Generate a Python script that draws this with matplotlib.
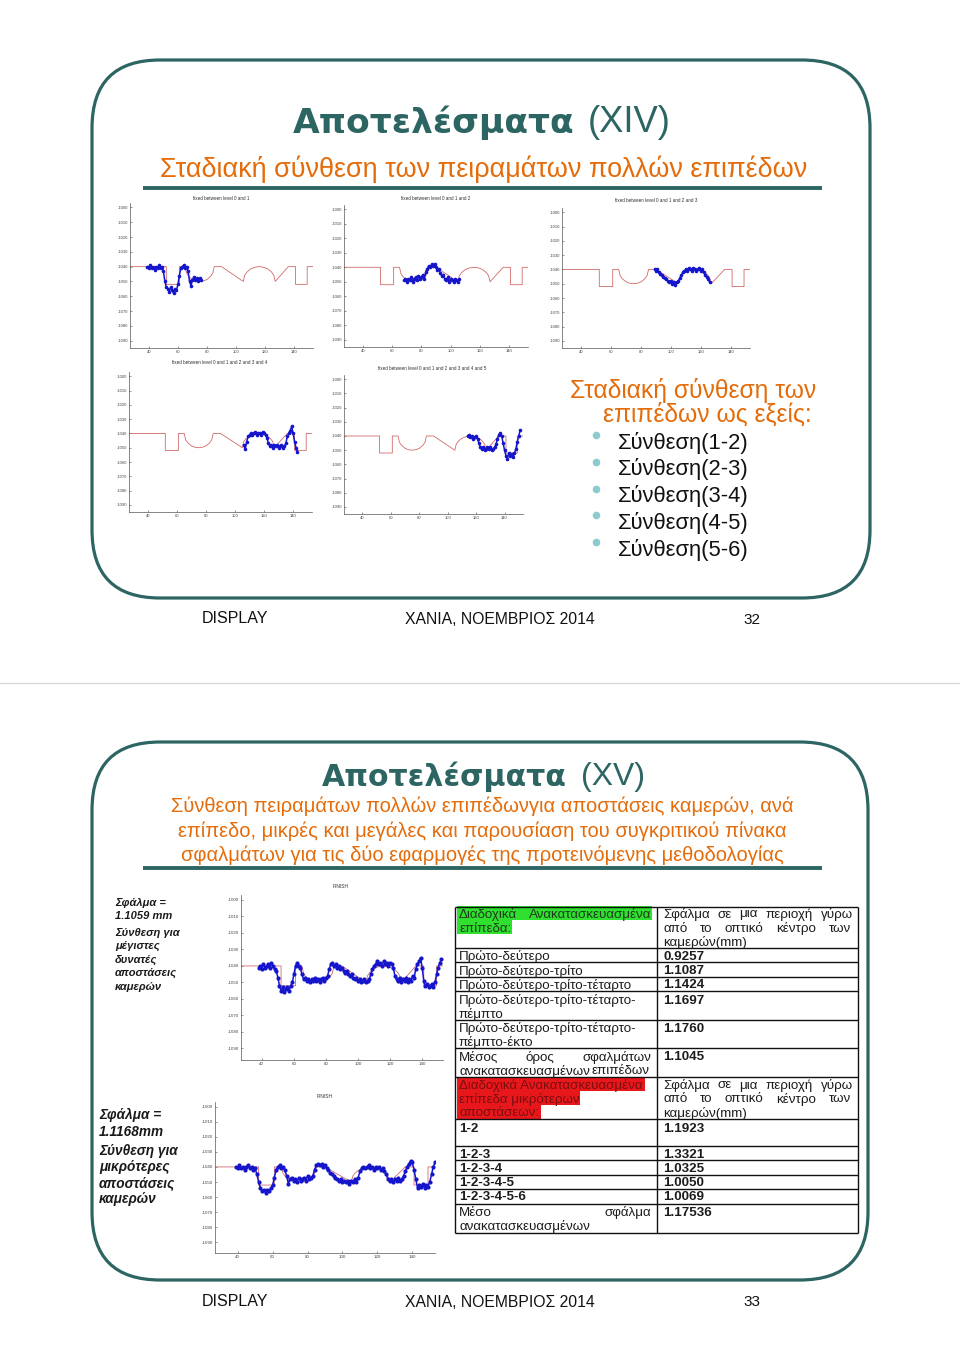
import matplotlib
matplotlib.use("Agg")
import matplotlib.pyplot as plt
import numpy as np
from matplotlib.patches import FancyBboxPatch, Rectangle

plt.rcParams["font.family"] = ["Liberation Sans", "DejaVu Sans"]
plt.rcParams["axes.unicode_minus"] = False

TEAL = "#2d6563"
ORANGE = "#e46c0a"
RED_LINE = "#d26a6a"
BLUE = "#1515cc"
W, H = 960, 1367

# ground-truth surface profile (red line)
TRUTH_X = [27, 52, 52, 61, 61, 65, 66, 67.5, 70, 72.5, 75, 77.5, 80, 82.5, 84, 85,
           90, 105, 106, 107.5, 110, 113, 116, 119, 122, 124.5, 126, 127,
           136, 141, 141, 149, 149, 153]
TRUTH_Y = [-1040, -1040, -1052, -1052, -1040, -1040, -1044.4, -1046.6, -1048.7, -1049.7, -1050,
           -1049.7, -1048.7, -1046.6, -1044.4, -1040, -1040, -1050, -1045.8, -1043.7, -1041.6,
           -1040.4, -1040, -1040.4, -1041.6, -1043.7, -1045.8, -1050, -1040, -1040, -1052,
           -1052, -1040, -1040]

# reconstructed points (blue), first x and one value per unit step
STAGE1_X0 = 39
STAGE1_Y = [-1040, -1041, -1039, -1041, -1040, -1042, -1040, -1041, -1039, -1041, -1040, -1043,
            -1050, -1054, -1055, -1057, -1054, -1056, -1058, -1055, -1056, -1052, -1046, -1041,
            -1040, -1039, -1041, -1040, -1043, -1050, -1053, -1049, -1047, -1049, -1048, -1050,
            -1048, -1049]
STAGE2_X0 = 68
STAGE2_Y = [-1049, -1048, -1050, -1048, -1049, -1047, -1050, -1048, -1047, -1049, -1046, -1048,
            -1047, -1045, -1048, -1043, -1041, -1039, -1040, -1038, -1039, -1038, -1040, -1042,
            -1041, -1044, -1046, -1045, -1048, -1049, -1047, -1050, -1048, -1049, -1050, -1048,
            -1049, -1050, -1048]
STAGE3_X0 = 89
STAGE3_Y = [-1040, -1041, -1040, -1042, -1043, -1044, -1045, -1046, -1047, -1048, -1049, -1048,
            -1050, -1049, -1051, -1049, -1048, -1046, -1044, -1042, -1041, -1040, -1041, -1039,
            -1040, -1041, -1039, -1040, -1041, -1040, -1039, -1041, -1040, -1042, -1044, -1045,
            -1047, -1049]
STAGE4_X0 = 106
STAGE4_Y = [-1048, -1051, -1046, -1042, -1041, -1040, -1041, -1040, -1039, -1041, -1040, -1040,
            -1041, -1039, -1040, -1041, -1043, -1047, -1049, -1048, -1050, -1048, -1049, -1048,
            -1050, -1049, -1048, -1050, -1049, -1047, -1042, -1040, -1038, -1035, -1040, -1046,
            -1050, -1053]
STAGE5_X0 = 114
STAGE5_Y = [-1040, -1039, -1041, -1040, -1042, -1041, -1040, -1042, -1045, -1048, -1049, -1048,
            -1050, -1049, -1048, -1049, -1048, -1050, -1049, -1048, -1046, -1042, -1039, -1038,
            -1040, -1045, -1050, -1054, -1056, -1052, -1054, -1053, -1055, -1052, -1049, -1044,
            -1040, -1036]
FINAL_MAX_X0 = 38
FINAL_MAX_Y = [-1041, -1040, -1042, -1039, -1041, -1040, -1039, -1041, -1038, -1040, -1042, -1043,
               -1047, -1052, -1055, -1053, -1056, -1054, -1053, -1055, -1052, -1050, -1045, -1040,
               -1038, -1040, -1041, -1045, -1048, -1047, -1049, -1048, -1050, -1048, -1049, -1047,
               -1049, -1048, -1050, -1048, -1047, -1049, -1047, -1046, -1042, -1039, -1038, -1040,
               -1039, -1041, -1040, -1042, -1041, -1043, -1044, -1043, -1045, -1046, -1045, -1047,
               -1048, -1047, -1049, -1048, -1050, -1049, -1048, -1050, -1049, -1048, -1045, -1042,
               -1040, -1039, -1037, -1039, -1038, -1040, -1037, -1039, -1038, -1040, -1038, -1039,
               -1041, -1046, -1048, -1049, -1047, -1050, -1048, -1049, -1047, -1050, -1048, -1049,
               -1046, -1047, -1042, -1039, -1037, -1035, -1041, -1049, -1052, -1051, -1053, -1052,
               -1051, -1053, -1050, -1045, -1041, -1038, -1036]
FINAL_MIN_X0 = 39
FINAL_MIN_Y = [-1040, -1041, -1039, -1041, -1040, -1042, -1040, -1039, -1041, -1040, -1042, -1041,
               -1045, -1050, -1054, -1056, -1055, -1057, -1055, -1056, -1054, -1052, -1047, -1042,
               -1040, -1039, -1041, -1040, -1042, -1046, -1051, -1048, -1047, -1049, -1048, -1050,
               -1047, -1049, -1048, -1047, -1049, -1046, -1048, -1047, -1046, -1042, -1039, -1038,
               -1039, -1038, -1040, -1039, -1041, -1042, -1044, -1045, -1046, -1047, -1048, -1049,
               -1048, -1050, -1049, -1050, -1049, -1051, -1049, -1050, -1048, -1050, -1047, -1043,
               -1041, -1040, -1041, -1040, -1039, -1041, -1040, -1042, -1040, -1041, -1040, -1042,
               -1041, -1043, -1045, -1048, -1049, -1048, -1050, -1048, -1049, -1047, -1049, -1048,
               -1046, -1043, -1040, -1038, -1036, -1037, -1042, -1048, -1054, -1052, -1053, -1051,
               -1054, -1052, -1053, -1050, -1045, -1040, -1037]

PANEL_TITLES = [
    "fixed between level 0 and 1",
    "fixed between level 0 and 1 and 2",
    "fixed between level 0 and 1 and 2 and 3",
    "fixed between level 0 and 1 and 2 and 3 and 4",
    "fixed between level 0 and 1 and 2 and 3 and 4 and 5",
]
COMPOSITIONS = ["Σύνθεση(1-2)", "Σύνθεση(2-3)", "Σύνθεση(3-4)", "Σύνθεση(4-5)", "Σύνθεση(5-6)"]

TABLE_MAX_ROWS = ["Πρώτο-δεύτερο", "Πρώτο-δεύτερο-τρίτο", "Πρώτο-δεύτερο-τρίτο-τέταρτο",
                  "Πρώτο-δεύτερο-τρίτο-τέταρτο-\nπέμπτο", "Πρώτο-δεύτερο-τρίτο-τέταρτο-\nπέμπτο-έκτο"]
TABLE_MAX_ERR = ["0.9257", "1.1087", "1.1424", "1.1697", "1.1760"]
TABLE_MAX_MEAN = "1.1045"
TABLE_MIN_ROWS = ["1-2", "1-2-3", "1-2-3-4", "1-2-3-4-5", "1-2-3-4-5-6"]
TABLE_MIN_ERR = ["1.1923", "1.3321", "1.0325", "1.0050", "1.0069"]
TABLE_MIN_MEAN = "1.17536"


fig = plt.figure(figsize=(9.6, 13.67), dpi=100)
ax = fig.add_axes([0, 0, 1, 1])
ax.set_xlim(0, W)
ax.set_ylim(H, 0)
ax.axis("off")
renderer = fig.canvas.get_renderer()


def put(x, y, s, size, color="#111111", ha="left", width=None, **kw):
    t = ax.text(x, y, s, fontsize=size, color=color, ha=ha, va="center_baseline", **kw)
    if width:
        w = t.get_window_extent(renderer).width
        t.set_fontsize(size * width / w)
    return t


def justify(words, x0, x1, y, size, color="#1c1c1c", **kw):
    texts = [ax.text(x0, y, w, fontsize=size, color=color, va="center_baseline", **kw) for w in words]
    widths = [t.get_window_extent(renderer).width for t in texts]
    gap = (x1 - x0 - sum(widths)) / (len(words) - 1)
    x = x0
    for t, w in zip(texts, widths):
        t.set_x(x)
        x += w + gap


def slide_frame(x0, y0, x1, y1):
    ax.add_patch(FancyBboxPatch((x0, y0), x1 - x0, y1 - y0,
                                boxstyle="round,pad=0,rounding_size=68",
                                fc="white", ec=TEAL, lw=2.3))


def profile_panel(box, x0, ys, title, title_xy, ylim=(-1095, -997), fs=3.0, ms=2.6):
    l, t, r, b = box
    a = fig.add_axes([l / W, 1 - b / H, (r - l) / W, (b - t) / H])
    a.patch.set_alpha(0)
    a.plot(TRUTH_X, TRUTH_Y, color=RED_LINE, lw=0.6)
    xs = np.arange(len(ys)) + x0
    a.plot(xs, ys, color=BLUE, lw=1.1, marker="o", ms=ms, mew=0)
    a.set_xlim(27, 153)
    a.set_ylim(*ylim)
    a.set_xticks(range(40, 141, 20))
    a.set_yticks(range(-1090, -999, 10))
    a.tick_params(labelsize=fs, length=1.5, width=0.4, direction="in", pad=1.5, colors="#444444")
    for s in ("top", "right"):
        a.spines[s].set_visible(False)
    for s in ("left", "bottom"):
        a.spines[s].set_linewidth(0.5)
        a.spines[s].set_color("#555555")
    ax.text(title_xy[0], title_xy[1], title, fontsize=fs + 0.3, ha="center", va="center", color="#333333")
    return a


# ---------- page layout ----------
ax.plot([0, W], [683, 683], color="#d4d4d4", lw=0.8)
slide_frame(92, 60, 870, 598)
slide_frame(92, 742, 868, 1280)

# ---------- slide 32 ----------
put(293, 119, "Αποτελέσματα", 26, color=TEAL, width=282, family="DejaVu Sans", weight="bold")
put(588, 119, "(XIV)", 26, color=TEAL, width=83)
put(160, 166, "Σταδιακή σύνθεση των πειραμάτων πολλών επιπέδων", 19, color=ORANGE, width=648)
ax.plot([143, 822], [188, 188], color=TEAL, lw=2.8, solid_capstyle="butt")

profile_panel((130, 203, 313, 348), STAGE1_X0, STAGE1_Y, PANEL_TITLES[0], (221, 199))
profile_panel((344, 205, 528, 347), STAGE2_X0, STAGE2_Y, PANEL_TITLES[1], (436, 198))
profile_panel((562, 208, 750, 348), STAGE3_X0, STAGE3_Y, PANEL_TITLES[2], (656, 200))
profile_panel((129, 372, 312, 512), STAGE4_X0, STAGE4_Y, PANEL_TITLES[3], (220, 362))
profile_panel((344, 375, 523, 514), STAGE5_X0, STAGE5_Y, PANEL_TITLES[4], (432, 369))

put(570, 388, "Σταδιακή σύνθεση των", 17, color=ORANGE, width=246)
put(603, 412, "επιπέδων ως εξείς:", 17, color=ORANGE, width=209)
for i, item in enumerate(COMPOSITIONS):
    y = 440 + i * 26.8
    ax.plot(596, y - 5, "o", color="#8ecbcf", ms=5.5, mew=0)
    put(618, y, item, 15, color="#111111", width=131)

put(202, 617, "DISPLAY", 11, width=66)
put(405, 618, "ΧΑΝΙΑ, ΝΟΕΜΒΡΙΟΣ 2014", 11, width=189)
put(743, 618, "32", 11, width=17)

# ---------- slide 33 ----------
put(322, 774, "Αποτελέσματα", 23, color=TEAL, width=246, family="DejaVu Sans", weight="bold")
put(581, 774, "(XV)", 23, color=TEAL, width=64)
put(171, 804, "Σύνθεση πειραμάτων πολλών επιπέδωνγια αποστάσεις καμερών, ανά", 14, color=ORANGE, width=625)
put(178, 829, "επίπεδο, μικρές και μεγάλες και παρουσίαση του συγκριτικού πίνακα", 14, color=ORANGE, width=611)
put(181, 853, "σφαλμάτων για τις δύο εφαρμογές της προτεινόμενης μεθοδολογίας", 14, color=ORANGE, width=605)
ax.plot([143, 822], [868, 868], color=TEAL, lw=2.8, solid_capstyle="butt")

left_top = ["Σφάλμα =", "1.1059 mm", "Σύνθεση για", "μέγιστες", "δυνατές", "αποστάσεις", "καμερών"]
for s, y in zip(left_top, [902, 915, 932, 945, 959, 972, 986]):
    put(115, y, s, 8, color="#1a1a1a", style="italic", weight="bold")
left_bot = ["Σφάλμα =", "1.1168mm", "Σύνθεση για", "μικρότερες", "αποστάσεις", "καμερών"]
for s, y in zip(left_bot, [1113, 1130, 1149, 1166, 1182, 1198]):
    put(99, y, s, 9.8, color="#1a1a1a", style="italic", weight="bold")

profile_panel((241, 895, 443, 1060), FINAL_MAX_X0, FINAL_MAX_Y, "FINISH", (341, 887),
              ylim=(-1097, -997), fs=3.2, ms=3.0)
profile_panel((215, 1102, 435, 1253), FINAL_MIN_X0, FINAL_MIN_Y, "FINISH", (325, 1097),
              ylim=(-1097, -997), fs=3.2, ms=3.0)

# ---------- comparison table ----------
TL, TM, TR = 455, 657, 858
ROW_LINES = [907, 948, 962, 977, 991, 1020, 1048, 1077, 1119, 1146, 1160, 1175, 1189, 1204, 1233]
TS = 9.6
INK = "#1c1c1c"
GREEN = "#2fe02f"
RED_BG = "#e8171c"

ax.add_patch(Rectangle((457, 906), 195, 14, fc=GREEN, ec="none"))
ax.add_patch(Rectangle((457, 920), 55, 14, fc=GREEN, ec="none"))
ax.add_patch(Rectangle((457, 1077), 188, 14, fc=RED_BG, ec="none"))
ax.add_patch(Rectangle((457, 1091), 123, 14, fc=RED_BG, ec="none"))
ax.add_patch(Rectangle((457, 1105), 84, 14, fc=RED_BG, ec="none"))

ax.hlines(ROW_LINES, TL, TR, color="#111111", lw=1.0)
ax.vlines([TL, TM, TR], ROW_LINES[0], ROW_LINES[-1], color="#111111", lw=1.0)

justify(["Διαδοχικά", "Ανακατασκευασμένα"], 459, 651, 913, TS, color="#1f3a1f")
put(459, 927, "επίπεδα:", TS, color="#1f3a1f")
for yy in (913, 1084):
    justify(["Σφάλμα", "σε", "μια", "περιοχή", "γύρω"], 663, 853, yy, TS)
    justify(["από", "το", "οπτικό", "κέντρο", "των"], 663, 851, yy + 14, TS)
    put(663, yy + 28, "καμερών(mm)", TS, color=INK)

max_y = [955, 970, 984, 999, 1027]
for label, err, y in zip(TABLE_MAX_ROWS, TABLE_MAX_ERR, max_y):
    for k, part in enumerate(label.split("\n")):
        put(459, y + 14 * k, part, TS, color=INK)
    put(663, y, err, TS, color=INK, weight="bold")
justify(["Μέσος", "όρος", "σφαλμάτων"], 459, 651, 1056, TS)
justify(["ανακατασκευασμένων", "επιπέδων"], 459, 649, 1070, TS)
put(663, 1056, TABLE_MAX_MEAN, TS, color=INK, weight="bold")

put(459, 1084, "Διαδοχικά Ανακατασκευασμένα", TS, color="#7a0f0f")
put(459, 1098, "επίπεδα μικρότερων", TS, color="#7a0f0f")
put(459, 1112, "αποστάσεων:", TS, color="#7a0f0f")
min_y = [1127, 1153, 1167, 1182, 1196]
for label, err, y in zip(TABLE_MIN_ROWS, TABLE_MIN_ERR, min_y):
    put(459, y, label, TS, color=INK, weight="bold")
    put(663, y, err, TS, color=INK, weight="bold")
justify(["Μέσο", "σφάλμα"], 459, 651, 1211, TS)
put(459, 1225, "ανακατασκευασμένων", TS, color=INK)
put(663, 1211, TABLE_MIN_MEAN, TS, color=INK, weight="bold")

put(202, 1300, "DISPLAY", 11, width=66)
put(405, 1301, "ΧΑΝΙΑ, ΝΟΕΜΒΡΙΟΣ 2014", 11, width=189)
put(743, 1301, "33", 11, width=17)

fig.savefig("out.png", dpi=100, facecolor="white")
